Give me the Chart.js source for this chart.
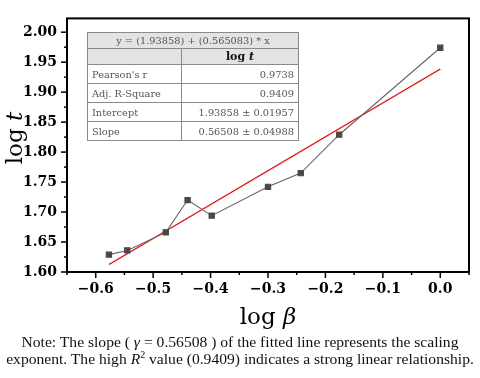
<!DOCTYPE html>
<html>
<head>
<meta charset="utf-8">
<script src="https://cdn.jsdelivr.net/npm/chart.js@4"></script>
<style>
html,body{margin:0;padding:0;background:#fff;}
#wrap{position:relative;width:480px;height:378px;overflow:hidden;}
#c{position:absolute;left:0;top:0;}
.ytitle{position:absolute;left:-21px;top:124px;width:70px;height:28px;transform:rotate(-90deg);font-family:"DejaVu Serif",serif;font-size:23px;text-align:center;line-height:28px;white-space:nowrap;}
.xtitle{position:absolute;left:168px;top:302px;width:200px;text-align:center;font-family:"DejaVu Serif",serif;font-size:23px;line-height:28px;}
.note{position:absolute;left:0;top:333px;width:480px;text-align:center;font-family:"Liberation Serif","Times New Roman",serif;font-size:15.6px;line-height:17px;color:#111;}
table.fit{position:absolute;left:87px;top:32px;border-collapse:collapse;font-family:"DejaVu Serif",serif;font-size:9.8px;color:#555;}
table.fit td{border:1px solid #8a8a8a;padding:0 4px;height:18px;white-space:nowrap;}
table.fit tr.h td{background:#e3e3e3;height:15px;}
</style>
</head>
<body>
<div id="wrap">
<canvas id="c" width="480" height="330"></canvas>
<div class="ytitle">log <i>t</i></div>
<div class="xtitle">log <i>β</i></div>
<table class="fit" id="tbl"></table>
<div class="note">Note: The slope ( <i>γ</i> = 0.56508 ) of the fitted line represents the scaling<br>exponent. The high <i>R</i><sup style="font-size:10px;line-height:0">2</sup> value (0.9409) indicates a strong linear relationship.</div>
</div>
<script>
// data
const logBeta = [-0.577, -0.545, -0.478, -0.440, -0.398, -0.300, -0.243, -0.176, 0.0];
const logT    = [1.629, 1.636, 1.666, 1.720, 1.694, 1.742, 1.765, 1.829, 1.974];
const fitIntercept = 1.93858;
const fitSlope = 0.565083;
const xTicks = [-0.6, -0.5, -0.4, -0.3, -0.2, -0.1, 0.0];
const yTicks = [1.60, 1.65, 1.70, 1.75, 1.80, 1.85, 1.90, 1.95, 2.00];
const xMinor = [-0.65, -0.55, -0.45, -0.35, -0.25, -0.15, -0.05, 0.05];
const yMinor = [1.625, 1.675, 1.725, 1.775, 1.825, 1.875, 1.925, 1.975];
const tableTitle = "y = (1.93858) + (0.565083) * x";
const tableHeader = ["", "log <i>t</i>"];
const tableRows = [
  ["Pearson's r", "0.9738"],
  ["Adj. R-Square", "0.9409"],
  ["Intercept", "1.93858 ± 0.01957"],
  ["Slope", "0.56508 ± 0.04988"]
];

// build the table
const tbl = document.getElementById('tbl');
let html = '<tr class="h"><td colspan="2" style="text-align:center">' + tableTitle + '</td></tr>';
html += '<tr class="h"><td style="width:85px"></td><td style="width:108px;text-align:center;color:#111;font-weight:bold;font-size:11px">' + tableHeader[1] + '</td></tr>';
tableRows.forEach(r => { html += '<tr><td>' + r[0] + '</td><td style="text-align:right">' + r[1] + '</td></tr>'; });
tbl.innerHTML = html;

const fitX = [logBeta[0], logBeta[logBeta.length - 1]];
const fitPts = fitX.map(x => ({x: x, y: fitIntercept + fitSlope * x}));

const fmt = v => (v < 0 ? '\u2212' : '') + Math.abs(v).toFixed(1);

const framePlugin = {
  id: 'frame',
  afterDraw(chart) {
    const ctx = chart.ctx, a = chart.chartArea;
    const xs = chart.scales.x, ys = chart.scales.y;
    ctx.save();
    ctx.strokeStyle = '#000';
    ctx.lineWidth = 1.5;
    xTicks.forEach(v => { const p = xs.getPixelForValue(v); ctx.beginPath(); ctx.moveTo(p, a.bottom); ctx.lineTo(p, a.bottom + 6); ctx.stroke(); });
    xMinor.forEach(v => { const p = xs.getPixelForValue(v); if (p < a.left || p > a.right) return; ctx.beginPath(); ctx.moveTo(p, a.bottom); ctx.lineTo(p, a.bottom + 3); ctx.stroke(); });
    yTicks.forEach(v => { const p = ys.getPixelForValue(v); ctx.beginPath(); ctx.moveTo(a.left, p); ctx.lineTo(a.left - 6, p); ctx.stroke(); });
    yMinor.forEach(v => { const p = ys.getPixelForValue(v); ctx.beginPath(); ctx.moveTo(a.left, p); ctx.lineTo(a.left - 3, p); ctx.stroke(); });
    ctx.lineWidth = 2;
    ctx.strokeRect(a.left, a.top, a.right - a.left, a.bottom - a.top);
    ctx.restore();
  }
};

new Chart(document.getElementById('c'), {
  type: 'scatter',
  data: {
    datasets: [
      {
        data: fitPts,
        showLine: true,
        borderColor: '#ff0000',
        borderWidth: 1.3,
        pointRadius: 0,
        order: 2
      },
      {
        data: logBeta.map((x, i) => ({x: x, y: logT[i]})),
        showLine: true,
        borderColor: '#666666',
        borderWidth: 1.1,
        pointStyle: 'rect',
        pointRadius: 3.7,
        pointBackgroundColor: '#484848',
        pointBorderColor: '#484848',
        order: 1
      }
    ]
  },
  plugins: [framePlugin],
  options: {
    responsive: false,
    animation: false,
    layout: {padding: {left: 0, right: 11, top: 13, bottom: 0}},
    plugins: {legend: {display: false}, tooltip: {enabled: false}},
    scales: {
      x: {
        type: 'linear', min: -0.65, max: 0.05,
        afterBuildTicks: s => { s.ticks = xTicks.map(v => ({value: v})); },
        afterFit: s => { s.height = 58; },
        grid: {display: false, drawTicks: false},
        border: {display: false},
        ticks: {callback: v => fmt(v), color: '#000', padding: 9, maxRotation: 0, autoSkip: false,
                font: {family: 'DejaVu Serif', weight: 'bold', size: 14}}
      },
      y: {
        type: 'linear', min: 1.6, max: 2.023,
        afterBuildTicks: s => { s.ticks = yTicks.map(v => ({value: v})); },
        afterFit: s => { s.width = 67; },
        grid: {display: false, drawTicks: false},
        border: {display: false},
        ticks: {callback: v => v.toFixed(2), color: '#000', padding: 10, autoSkip: false,
                font: {family: 'DejaVu Serif', weight: 'bold', size: 14}}
      }
    }
  }
});
</script>
</body>
</html>
